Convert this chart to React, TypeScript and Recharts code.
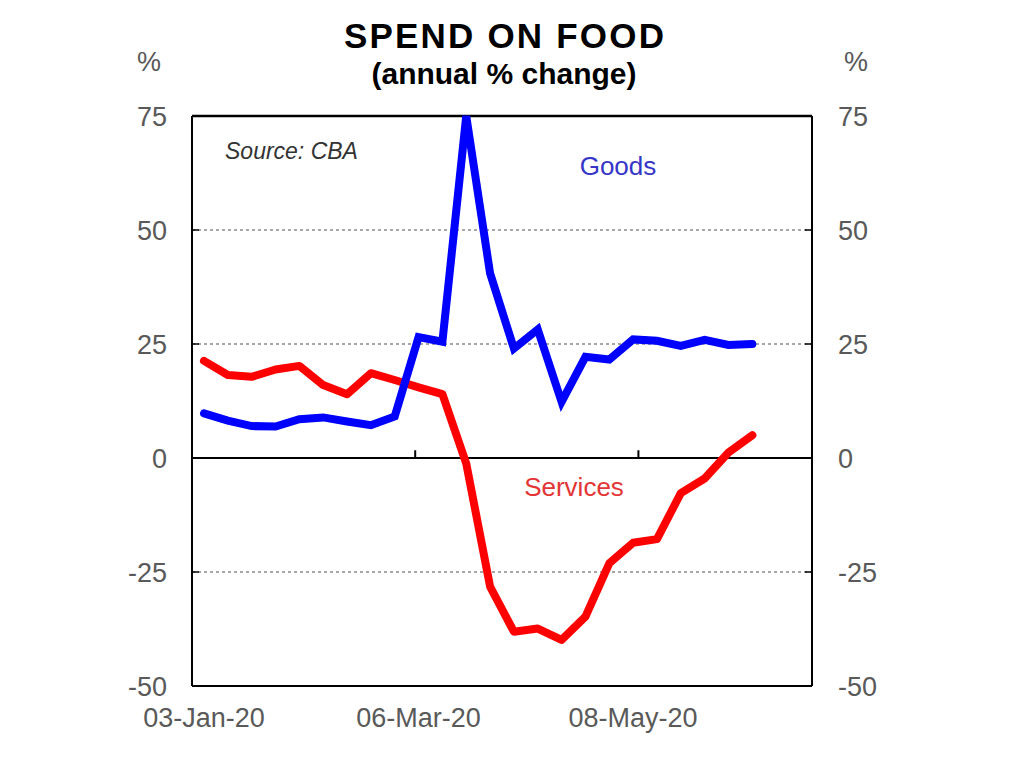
import React from "react";
import {
  LineChart,
  Line,
  XAxis,
  YAxis,
  CartesianGrid,
  ReferenceLine,
} from "recharts";

const dates = [
  "03-Jan-20", "10-Jan-20", "17-Jan-20", "24-Jan-20", "31-Jan-20", "07-Feb-20",
  "14-Feb-20", "21-Feb-20", "28-Feb-20", "06-Mar-20", "13-Mar-20", "20-Mar-20",
  "27-Mar-20", "03-Apr-20", "10-Apr-20", "17-Apr-20", "24-Apr-20", "01-May-20",
  "08-May-20", "15-May-20", "22-May-20", "29-May-20", "05-Jun-20", "12-Jun-20",
  "19-Jun-20", "26-Jun-20",
];

const goods = [
  9.8, 8.2, 7.0, 6.9, 8.5, 8.9, 8.0, 7.2, 9.1, 26.5, 25.5, 75.0,
  40.5, 24.0, 28.2, 12.3, 22.2, 21.6, 26.0, 25.7, 24.6, 25.9, 24.8, 25.0,
];

const services = [
  21.3, 18.2, 17.8, 19.4, 20.2, 16.0, 14.0, 18.6, 17.1, 15.5, 14.0, -1.2,
  -28.2, -38.1, -37.4, -39.9, -34.8, -23.1, -18.6, -17.8, -7.7, -4.5, 1.2, 5.0,
];

const xTickLabels = ["03-Jan-20", "06-Mar-20", "08-May-20"];
const yTicks = [-50, -25, 0, 25, 50, 75];
const yDomain: [number, number] = [-50, 75];

const data = dates.map((d, i) => ({
  date: d,
  goods: i < goods.length ? goods[i] : null,
  services: i < services.length ? services[i] : null,
}));

// category boundaries where the tick marks on the zero line sit
const tickBoundaries = xTickLabels.slice(1).map((l) => dates.indexOf(l));

const FONT = "'Liberation Sans', Arial, Helvetica, sans-serif";
const TICK_COLOR = "#595959";

export default function App() {
  const W = 1008;
  const H = 753;
  return (
    <div style={{ position: "relative", width: W, height: H, fontFamily: FONT }}>
      <LineChart
        width={W}
        height={H}
        data={data}
        margin={{ top: 108, right: 0, bottom: 0, left: 0 }}
      >
        <CartesianGrid
          vertical={false}
          stroke="#8a8a8a"
          strokeWidth={1.5}
          strokeDasharray="3 3"
          yAxisId="l"
          xAxisId="c"
        />
        <XAxis
          dataKey="date"
          xAxisId="c"
          ticks={xTickLabels}
          interval={0}
          padding={{ left: 12, right: 12 }}
          height={75}
          tickLine={false}
          tickSize={0}
          tickMargin={22}
          axisLine={{ stroke: "#000", strokeWidth: 2 }}
          tick={{ fill: TICK_COLOR, fontSize: 27, fontFamily: FONT }}
        />
        <XAxis xAxisId="n" type="number" domain={[0, dates.length]} hide />
        <YAxis
          yAxisId="l"
          domain={yDomain}
          ticks={yTicks}
          width={184}
          tickSize={-7}
          tickMargin={32}
          tickLine={{ stroke: "#000", strokeWidth: 1.5 }}
          axisLine={{ stroke: "#000", strokeWidth: 2 }}
          tick={{ fill: TICK_COLOR, fontSize: 27, fontFamily: FONT }}
        />
        <YAxis
          yAxisId="r"
          orientation="right"
          domain={yDomain}
          ticks={yTicks}
          width={204}
          tickSize={-7}
          tickMargin={33}
          tickLine={{ stroke: "#000", strokeWidth: 1.5 }}
          axisLine={{ stroke: "#000", strokeWidth: 2 }}
          tick={{ fill: TICK_COLOR, fontSize: 27, fontFamily: FONT }}
        />
        <ReferenceLine
          y={0}
          xAxisId="c"
          yAxisId="l"
          stroke="#000"
          strokeWidth={2}
        />
        <ReferenceLine
          y={yDomain[1]}
          xAxisId="c"
          yAxisId="l"
          stroke="#000"
          strokeWidth={2.5}
        />
        {tickBoundaries.map((b) => (
          <ReferenceLine
            key={b}
            xAxisId="n"
            yAxisId="l"
            segment={[
              { x: b, y: 0 },
              { x: b, y: 1.7 },
            ]}
            stroke="#000"
            strokeWidth={2}
          />
        ))}
        <Line
          xAxisId="c"
          yAxisId="l"
          dataKey="services"
          stroke="#ff0000"
          strokeWidth={8}
          dot={false}
          type="linear"
          isAnimationActive={false}
          strokeLinejoin="round"
          strokeLinecap="round"
        />
        <Line
          xAxisId="c"
          yAxisId="r"
          dataKey="goods"
          stroke="#0000ff"
          strokeWidth={8}
          dot={false}
          type="linear"
          isAnimationActive={false}
          strokeLinejoin="miter"
          strokeLinecap="round"
        />
      </LineChart>
      <svg
        width={W}
        height={H}
        style={{ position: "absolute", left: 0, top: 0, pointerEvents: "none" }}
      >
        <text
          x={497}
          y={40}
          textAnchor="middle"
          fontFamily={FONT}
          fontWeight="bold"
          fontSize={35}
          letterSpacing={2.2}
          fill="#000"
        >
          SPEND ON FOOD
        </text>
        <text
          x={496}
          y={76}
          textAnchor="middle"
          fontFamily={FONT}
          fontWeight="bold"
          fontSize={30}
          fill="#000"
        >
          (annual % change)
        </text>
        <text x={141} y={63} textAnchor="middle" fontFamily={FONT} fontSize={27} fill={TICK_COLOR}>
          %
        </text>
        <text x={848} y={63} textAnchor="middle" fontFamily={FONT} fontSize={27} fill={TICK_COLOR}>
          %
        </text>
        <text x={217} y={151} fontFamily={FONT} fontStyle="italic" fontSize={23} fill="#333">
          Source: CBA
        </text>
        <text x={610} y={167} textAnchor="middle" fontFamily={FONT} fontSize={26} fill="#3535c8">
          Goods
        </text>
        <text x={566} y={488} textAnchor="middle" fontFamily={FONT} fontSize={26} fill="#e33535">
          Services
        </text>
      </svg>
    </div>
  );
}
